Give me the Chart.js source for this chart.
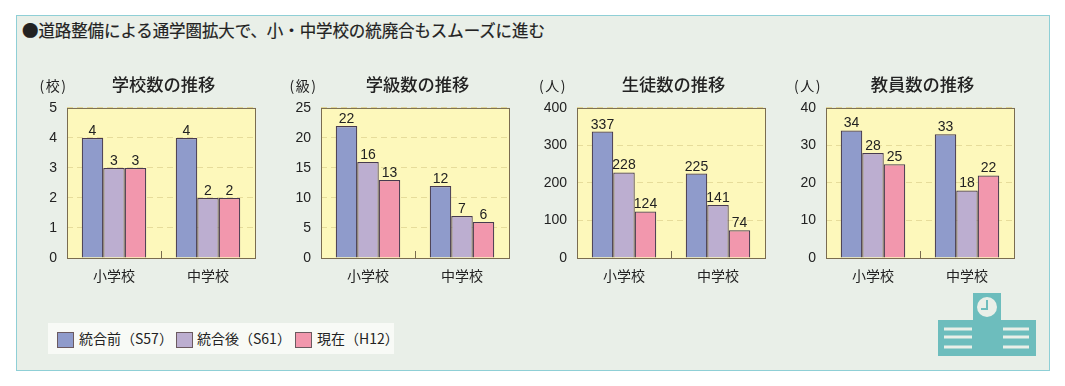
<!DOCTYPE html>
<html lang="ja">
<head>
<meta charset="utf-8">
<style>
    html, body { margin: 0; padding: 0; background: #fff; }
    body { width: 1065px; height: 386px; position: relative; overflow: hidden; font-family: "Noto Sans CJK JP", sans-serif; color: #222; }
    #panel { position: absolute; left: 16px; top: 15px; width: 1032px; height: 354px; background: #e9efe8; border: 1px solid #8fcfd6; }
    #heading { position: absolute; left: 22px; top: 19px; font-size: 16.5px; line-height: 22px; letter-spacing: -0.1px; white-space: nowrap; -webkit-text-stroke: 0.2px #222; }
    canvas { position: absolute; top: 70px; }
    #legend { position: absolute; left: 48px; top: 323px; width: 346px; height: 31px; background: #f8faf6; font-size: 14px; }
    #legend span { position: absolute; top: 5px; line-height: 20px; white-space: nowrap; }
    #legend i { position: absolute; top: 9px; width: 17px; height: 16px; border: 1px solid #6b5a60; box-sizing: border-box; }
    #icon { position: absolute; left: 938px; top: 293px; }
</style>
</head>
<body>
<div id="panel"></div>
<div id="heading">●道路整備による通学圏拡大で、小・中学校の統廃合もスムーズに進む</div>
<canvas id="chart0" width="250" height="220" style="left:10px"></canvas>
<canvas id="chart1" width="250" height="220" style="left:264px"></canvas>
<canvas id="chart2" width="250" height="220" style="left:520px"></canvas>
<canvas id="chart3" width="250" height="220" style="left:769px"></canvas>
<div id="legend">
    <i style="left:9px;background:#8f9bcb"></i><span style="left:31px">統合前（S57）</span>
    <i style="left:128px;background:#bcaed0"></i><span style="left:149px">統合後（S61）</span>
    <i style="left:247px;background:#f297ad"></i><span style="left:269px">現在（H12）</span>
</div>
<svg id="icon" width="98" height="64" viewBox="0 0 98 64">
    <rect x="0" y="27" width="98" height="36" fill="#6dbdbd"/>
    <rect x="35" y="0" width="28" height="30" fill="#6dbdbd"/>
    <circle cx="49" cy="14" r="10" fill="#e9efe8"/>
    <path d="M49 7v9h-6" fill="none" stroke="#6dbdbd" stroke-width="2"/>
    <path d="M6 36h28M6 44h28M6 54h28M65 36h26M65 44h26M65 54h26" stroke="#e9efe8" stroke-width="3"/>
</svg>
<script src="https://cdn.jsdelivr.net/npm/chart.js@4/dist/chart.umd.min.js"></script>
<script>
const categories = ['小学校', '中学校'];
const seriesNames = ['統合前（S57）', '統合後（S61）', '現在（H12）'];
const seriesColors = ['#8f9bcb', '#bcaed0', '#f297ad'];

const chartTitles = ['学校数の推移', '学級数の推移', '生徒数の推移', '教員数の推移'];
const chartUnits = ['(校)', '(級)', '(人)', '(人)'];
const axisMax = [5, 25, 400, 40];
const axisStep = [1, 5, 100, 10];

const schoolsBefore = [4, 4];
const schoolsAfter = [3, 2];
const schoolsNow = [3, 2];
const classesBefore = [22, 12];
const classesAfter = [16, 7];
const classesNow = [13, 6];
const pupilsBefore = [337, 225];
const pupilsAfter = [228, 141];
const pupilsNow = [124, 74];
const teachersBefore = [34, 33];
const teachersAfter = [28, 18];
const teachersNow = [25, 22];

const allSeries = [
    [schoolsBefore, schoolsAfter, schoolsNow],
    [classesBefore, classesAfter, classesNow],
    [pupilsBefore, pupilsAfter, pupilsNow],
    [teachersBefore, teachersAfter, teachersNow]
];

// how far left of the plot the unit text is centred, per chart
const unitOffset = [13.5, 17.5, 24, 18];

const cjkFont = '"Noto Sans CJK JP", sans-serif';
const digitFont = '"Liberation Sans", sans-serif';

// yellow plot background, frame and the short tick between the two groups
const plotFrame = {
    id: 'plotFrame',
    afterLayout(chart) {
        // title sits slightly right of the plot centre in the original
        chart.titleBlock.left += 2.5;
        chart.titleBlock.right += 2.5;
    },
    beforeDraw(chart) {
        const { ctx, chartArea: a } = chart;
        ctx.save();
        ctx.fillStyle = '#fdf8bb';
        ctx.fillRect(a.left, a.top, a.width, a.height);
        ctx.restore();
    },
    afterDatasetsDraw(chart) {
        const { ctx, chartArea: a } = chart;
        ctx.save();
        ctx.strokeStyle = '#7a6c50';
        ctx.lineWidth = 1;
        ctx.strokeRect(a.left + 0.5, a.top + 0.5, a.width, a.height);
        const mid = Math.round((a.left + a.right) / 2) + 0.5;
        ctx.beginPath();
        ctx.moveTo(mid, a.bottom);
        ctx.lineTo(mid, a.bottom - 7);
        ctx.stroke();
        ctx.restore();
    }
};

const valueLabels = {
    id: 'valueLabels',
    afterDraw(chart) {
        const { ctx } = chart;
        ctx.save();
        ctx.fillStyle = '#222';
        ctx.font = '14px ' + digitFont;
        ctx.textAlign = 'center';
        ctx.textBaseline = 'alphabetic';
        chart.data.datasets.forEach(function (dataset, i) {
            chart.getDatasetMeta(i).data.forEach(function (bar, j) {
                ctx.fillText(dataset.data[j], bar.x, bar.y - 3);
            });
        });
        ctx.restore();
    }
};

const unitLabel = {
    id: 'unitLabel',
    afterDraw(chart, args, options) {
        const { ctx, chartArea } = chart;
        ctx.save();
        ctx.fillStyle = '#222';
        ctx.font = '14px ' + cjkFont;
        ctx.letterSpacing = '1.5px';
        ctx.textAlign = 'center';
        ctx.textBaseline = 'middle';
        ctx.fillText(options.text, chartArea.left - options.offset, 16);
        ctx.restore();
    }
};

allSeries.forEach(function (series, index) {
    new Chart(document.getElementById('chart' + index), {
        type: 'bar',
        data: {
            labels: categories,
            datasets: series.map(function (values, i) {
                return {
                    label: seriesNames[i],
                    data: values,
                    backgroundColor: seriesColors[i],
                    borderColor: '#473a50',
                    borderWidth: 1.2,
                    categoryPercentage: 0.686,
                    barPercentage: 1
                };
            })
        },
        options: {
            responsive: false,
            animation: false,
            layout: { padding: { top: 4, right: 5, bottom: 0, left: 0 } },
            plugins: {
                legend: { display: false },
                tooltip: { enabled: false },
                title: {
                    display: true,
                    text: chartTitles[index],
                    color: '#222',
                    fullSize: false,
                    font: { family: cjkFont, size: 17.3, weight: 500 },
                    position: 'top',
                    padding: { top: 0, bottom: 13.2 }
                },
                unitLabel: { text: chartUnits[index], offset: unitOffset[index] }
            },
            scales: {
                x: {
                    grid: { display: false },
                    border: { display: false },
                    ticks: { color: '#222', font: { family: cjkFont, size: 14 }, padding: 1 },
                    afterFit(scale) { scale.height = 32; }
                },
                y: {
                    min: 0,
                    max: axisMax[index],
                    grid: { color: '#e6dc9a', drawTicks: false },
                    border: { display: false, dash: [6, 4] },
                    ticks: {
                        stepSize: axisStep[index],
                        color: '#222',
                        font: { family: digitFont, size: 14 },
                        padding: 10
                    },
                    afterFit(scale) { scale.width = 57; }
                }
            }
        },
        plugins: [plotFrame, valueLabels, unitLabel]
    });
});
</script>
</body>
</html>
